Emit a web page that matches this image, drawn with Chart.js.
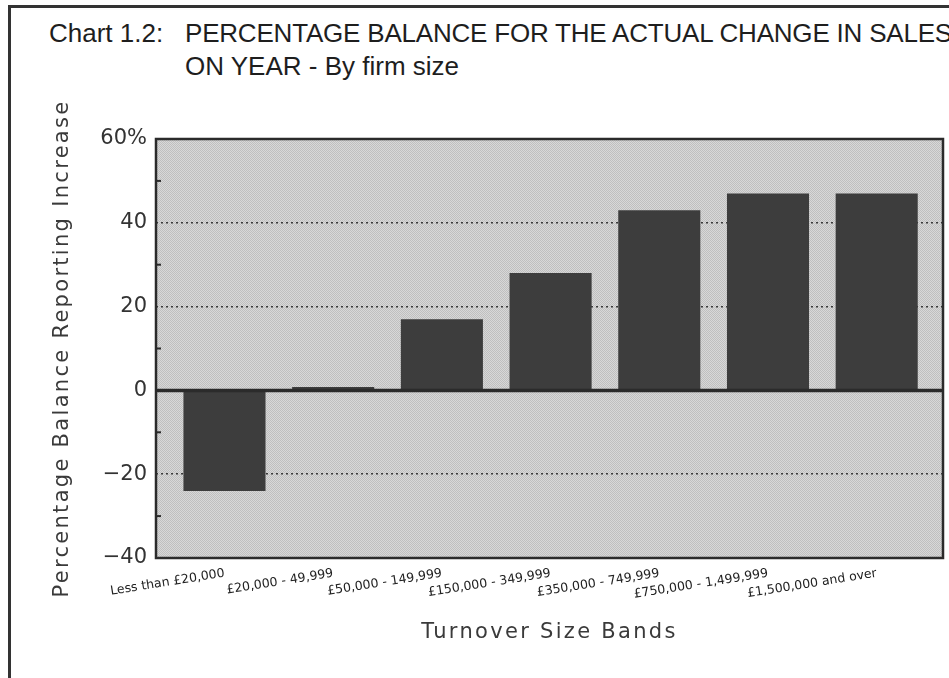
<!DOCTYPE html>
<html>
<head>
<meta charset="utf-8">
<script src="https://cdn.jsdelivr.net/npm/chart.js@4.4.1/dist/chart.umd.min.js"></script>
<style>
  html, body { margin: 0; padding: 0; background: #fff; overflow: hidden; }
  #wrap { position: relative; width: 949px; height: 678px; overflow: hidden; background: #fff; }
  #frame { position: absolute; left: 8px; top: 5px; width: 960px; height: 700px;
           border-left: 3px solid #333; border-top: 3px solid #333; box-sizing: border-box; }
  .t { position: absolute; font-family: "Liberation Sans", Arial, sans-serif; font-size: 26px;
       color: #1e1e1e; white-space: nowrap; line-height: 30px; }
  canvas { position: absolute; left: 0; top: 0; }
</style>
</head>
<body>
<div id="wrap">
  <div id="frame"></div>
  <div class="t" style="left:49px; top:18px;">Chart 1.2:</div>
  <div class="t" style="left:185px; top:18px; letter-spacing:-0.2px;">PERCENTAGE BALANCE FOR THE ACTUAL CHANGE IN SALES</div>
  <div class="t" style="left:185px; top:51px;">ON YEAR - By firm size</div>
  <canvas id="c" width="949" height="678"></canvas>
</div>
<script>
// ---- data ----
const categories = [
  "Less than \u00a320,000",
  "\u00a320,000 - 49,999",
  "\u00a350,000 - 149,999",
  "\u00a3150,000 - 349,999",
  "\u00a3350,000 - 749,999",
  "\u00a3750,000 - 1,499,999",
  "\u00a31,500,000 and over"
];
const balanceValues = [-24, 0.8, 17, 28, 43, 47, 47];
const yTickValues = [-40, -20, 0, 20, 40, 60];
const yAxisTitle = "Percentage Balance Reporting Increase";
const xAxisTitle = "Turnover Size Bands";

// texture for the plot background
function makePattern(colors, n) {
  const p = document.createElement('canvas');
  p.width = n; p.height = n;
  const c = p.getContext('2d');
  for (let i = 0; i < n; i++) for (let j = 0; j < n; j++) {
    c.fillStyle = colors[(i + j) % colors.length];
    c.fillRect(i, j, 1, 1);
  }
  return c.createPattern(p, 'repeat');
}
const bgPattern = makePattern(['#bfbfbf', '#d8d8d8'], 2);

const plotDecor = {
  id: 'plotDecor',
  beforeDraw(chart) {
    const {ctx, chartArea: a} = chart;
    ctx.save();
    ctx.fillStyle = bgPattern;
    ctx.fillRect(a.left, a.top, a.right - a.left, a.bottom - a.top);
    ctx.restore();
    // wide letter spacing for axis titles
    ['x', 'y'].forEach(id => {
      const s = chart.scales[id];
      if (s && !s._spPatched) {
        const orig = s.drawTitle;
        s.drawTitle = function () {
          const c = this.ctx; c.save(); c.letterSpacing = '2.3px'; orig.call(this); c.restore();
        };
        s._spPatched = true;
      }
    });
  },
  afterDatasetsDraw(chart) {
    const {ctx, chartArea: a} = chart;
    const ys = chart.scales.y;
    ctx.save();
    ctx.strokeStyle = '#2b2b2b';
    // minor ticks halfway between the labelled ticks
    ctx.lineWidth = 2;
    const t = ys.ticks.map(k => k.value);
    for (let i = 0; i < t.length - 1; i++) {
      const py = ys.getPixelForValue((t[i] + t[i + 1]) / 2);
      ctx.beginPath(); ctx.moveTo(a.left, py); ctx.lineTo(a.left + 5, py); ctx.stroke();
    }
    // zero line
    const z = ys.getPixelForValue(0);
    ctx.lineWidth = 3.5;
    ctx.beginPath(); ctx.moveTo(a.left, z); ctx.lineTo(a.right, z); ctx.stroke();
    // plot frame
    ctx.lineWidth = 2.5;
    ctx.strokeRect(a.left, a.top, a.right - a.left, a.bottom - a.top);
    ctx.restore();
  }
};

const titleFont = { family: "'DejaVu Sans', sans-serif", size: 21, weight: 'normal' };

new Chart(document.getElementById('c'), {
  type: 'bar',
  data: {
    datasets: [{
      data: balanceValues.map((v, i) => ({ x: i, y: v })),
      backgroundColor: '#3d3d3d',
      borderWidth: 0,
      categoryPercentage: 1,
      barPercentage: 0.755
    }]
  },
  plugins: [plotDecor],
  options: {
    responsive: false,
    animation: false,
    devicePixelRatio: 1,
    layout: { padding: { left: 50, right: 6, top: 139, bottom: 33 } },
    plugins: { legend: { display: false }, tooltip: { enabled: false }, title: { display: false } },
    scales: {
      x: {
        type: 'linear',
        offset: false,
        min: -0.63,
        max: 6.61,
        grid: { display: false, drawTicks: false },
        border: { display: false },
        afterFit: s => { s.height = 87; },
        ticks: {
          stepSize: 1,
          includeBounds: false,
          autoSkip: false,
          minRotation: 9,
          maxRotation: 9,
          padding: 8,
          color: '#222',
          font: { family: "'DejaVu Sans', sans-serif", size: 12.5 },
          callback: v => (Number.isInteger(v) && categories[v] !== undefined) ? categories[v] : ''
        },
        title: { display: true, text: xAxisTitle, color: '#3a3a3a', font: titleFont, padding: 0 }
      },
      y: {
        min: -40,
        max: 60,
        afterBuildTicks: s => { s.ticks = yTickValues.map(v => ({ value: v })); },
        afterFit: s => { s.width = 106; },
        grid: {
          drawTicks: false,
          lineWidth: 1.5,
          color: c => ([20, 40, -20].includes(c.tick.value) ? '#3a3a3a' : 'rgba(0,0,0,0)')
        },
        border: { display: false, dash: [2, 3] },
        ticks: {
          padding: 9,
          color: '#333',
          font: { family: "'DejaVu Sans', sans-serif", size: 21 },
          callback: v => v === 60 ? '60%' : (v < 0 ? '\u2212' + Math.abs(v) : String(v))
        },
        title: { display: true, text: yAxisTitle, color: '#3a3a3a', font: titleFont, padding: 0 }
      }
    }
  }
});
</script>
</body>
</html>
